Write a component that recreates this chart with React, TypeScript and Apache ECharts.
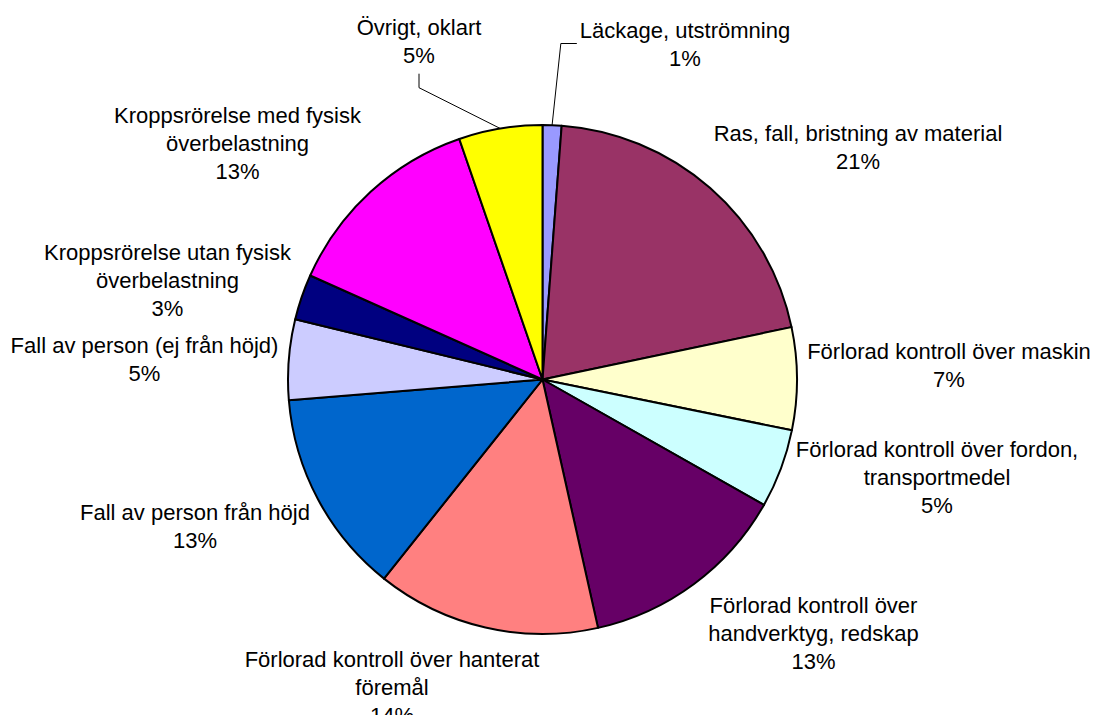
import React, { useEffect, useRef } from "react";
import * as echarts from "echarts";

// ---- Data ----
const categories: string[] = [
  "Läckage, utströmning",
  "Ras, fall, bristning av material",
  "Förlorad kontroll över maskin",
  "Förlorad kontroll över fordon,\ntransportmedel",
  "Förlorad kontroll över\nhandverktyg, redskap",
  "Förlorad kontroll över hanterat\nföremål",
  "Fall av person från höjd",
  "Fall av person (ej från höjd)",
  "Kroppsrörelse utan fysisk\növerbelastning",
  "Kroppsrörelse med fysisk\növerbelastning",
  "Övrigt, oklart",
];
const values: number[] = [1.2, 20.5, 6.5, 5.0, 13.3, 14.2, 13.0, 5.1, 2.9, 13.0, 5.3];
const colors: string[] = [
  "#9999FF",
  "#993366",
  "#FFFFCC",
  "#CCFFFF",
  "#660066",
  "#FF8080",
  "#0066CC",
  "#CCCCFF",
  "#000080",
  "#FF00FF",
  "#FFFF00",
];

// ---- Layout / style ----
const FONT = '"Liberation Sans", Arial, Helvetica, sans-serif';
const FONT_SIZE = 22;
const LINE_H = 28;
const CX = 542.5;
const CY = 379.5;
const R = 254.5;
// label block centres (Excel-style placement)
const labelCenters: [number, number][] = [
  [685, 44.5],
  [858, 147.5],
  [949, 365],
  [937, 477],
  [813.5, 633],
  [392, 687],
  [195, 526],
  [144.5, 359],
  [167.5, 280],
  [237.5, 143],
  [419, 41.7],
];
const leaderItems = [0, 10];

function measure(lines: string[]): number {
  const c = document.createElement("canvas");
  const ctx = c.getContext("2d");
  if (!ctx) return 200;
  ctx.font = `${FONT_SIZE}px ${FONT}`;
  return Math.max(...lines.map((l) => ctx.measureText(l).width));
}

export default function App() {
  const ref = useRef<HTMLDivElement>(null);

  useEffect(() => {
    if (!ref.current) return;
    const chart = echarts.init(ref.current, undefined, { renderer: "svg" });

    const total = values.reduce((a, b) => a + b, 0);
    let acc = 0;
    const mids = values.map((v) => {
      const m = ((acc + v / 2) / total) * Math.PI * 2;
      acc += v;
      return m;
    });
    const fmt = (p: any) => `${p.name}\n${Math.round(p.value)}%`;

    const option: any = {
      animation: false,
      backgroundColor: "#ffffff",
      series: [
        {
          type: "pie",
          center: [CX, CY],
          radius: R,
          startAngle: 90,
          clockwise: true,
          avoidLabelOverlap: false,
          silent: true,
          emphasis: { disabled: true },
          itemStyle: { borderColor: "#000000", borderWidth: 2 },
          label: {
            show: true,
            position: "outside",
            formatter: fmt,
            color: "#000000",
            fontFamily: FONT,
            fontSize: FONT_SIZE,
            lineHeight: LINE_H,
            width: 340,
            overflow: "none",
            align: "center",
          },
          labelLine: {
            show: false,
            length: 10,
            length2: 10,
            lineStyle: { color: "#000000", width: 1 },
          },
          labelLayout: (params: any) => {
            const i = params.dataIndex;
            const [x, y] = labelCenters[i];
            const out: any = { x, y, align: "center", verticalAlign: "middle" };
            const text = fmt({ name: categories[i], value: values[i] });
            const lines = text.split("\n");
            const sx = CX + R * Math.sin(mids[i]);
            const sy = CY - R * Math.cos(mids[i]);
            if (i === 0) {
              const left = x - measure(lines) / 2;
              out.labelLinePoints = [
                [sx, sy],
                [left - 19, y - 1],
                [left - 3, y - 1],
              ];
            } else if (i === 10) {
              const bottom = y + (lines.length * LINE_H) / 2;
              out.labelLinePoints = [
                [sx, sy],
                [x, bottom + 18],
                [x, bottom + 4],
              ];
            }
            return out;
          },
          data: categories.map((name, i) => ({
            name,
            value: values[i],
            itemStyle: { color: colors[i] },
            labelLine: { show: leaderItems.includes(i) },
          })),
        },
      ],
    };

    chart.setOption(option);
    return () => chart.dispose();
  }, []);

  return (
    <div
      ref={ref}
      style={{ position: "fixed", left: 0, top: 0, width: 1093, height: 715, background: "#fff" }}
    />
  );
}
